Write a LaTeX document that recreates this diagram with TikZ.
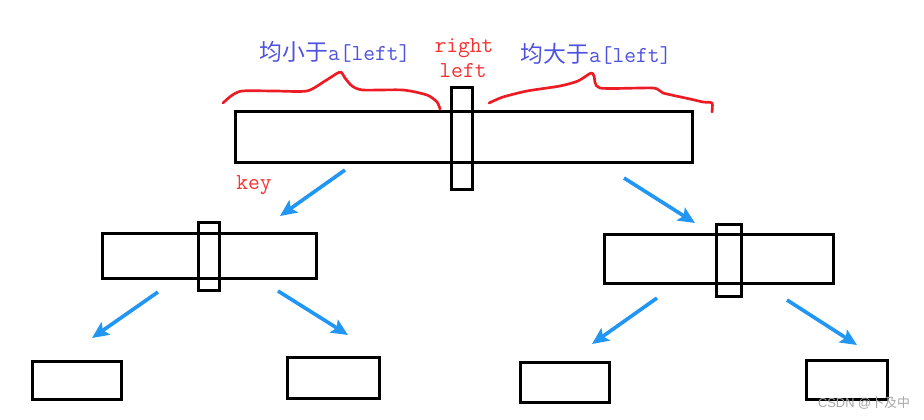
\documentclass[tikz,border=0pt]{standalone}
\usepackage{fontspec}
\newfontfamily\cjk{Noto Sans CJK SC}
\newfontfamily\wmfont{Liberation Sans}
\usetikzlibrary{arrows.meta}
\definecolor{penred}{RGB}{237,28,36}
\definecolor{penblue}{RGB}{33,150,243}
\definecolor{txtblue}{RGB}{78,82,222}
\definecolor{txtred}{RGB}{245,50,50}
\tikzset{
  box/.style={draw, line width=0.09cm, inner sep=0pt},
  brace/.style={penred, line width=0.08cm, line cap=round, line join=round},
  pen/.style={penblue, line width=0.11cm, -{Stealth[length=0.5cm,width=0.45cm,inset=0.1cm]}},
  lbl/.style={inner sep=0pt, font=\fontsize{19.5pt}{20pt}\selectfont},
  tt/.style={inner sep=0pt, font=\ttfamily\fontsize{19.5pt}{20pt}\selectfont},
}
\begin{document}
\begin{tikzpicture}[x=0.03cm, y=-0.03cm]
    \useasboundingbox (0,0) rectangle (924,419);

    % array and pivot slot
    \node [box, minimum width=13.68cm, minimum height=1.53cm] (arr) at (464,136.5) {};
    \node [box, minimum width=0.63cm, minimum height=3.03cm] (piv) at (461.5,138.5) {};

    \node [box, minimum width=6.39cm, minimum height=1.35cm] (lo) at (209.5,255.5) {};
    \node [box, minimum width=0.63cm, minimum height=2.04cm] (lopiv) at (208.5,256) {};
    \node [box, minimum width=6.87cm, minimum height=1.47cm] (hi) at (718.5,258.5) {};
    \node [box, minimum width=0.75cm, minimum height=2.16cm] (hipiv) at (728.5,260) {};

    \node [box, minimum width=2.64cm, minimum height=1.14cm] (lolo) at (77,380) {};
    \node [box, minimum width=2.76cm, minimum height=1.23cm] (lohi) at (333,377.5) {};
    \node [box, minimum width=2.67cm, minimum height=1.20cm] (hilo) at (564.5,382) {};
    \node [box, minimum width=2.43cm, minimum height=1.17cm] (hihi) at (846.5,379.5) {};

    % labels
    \node [lbl, text=txtblue] (less) at (335,52) {\cjk 均小于\texttt{a[left]}};
    \node [lbl, text=txtblue] (more) at (596,54) {\cjk 均大于\texttt{a[left]}};
    \node [tt, text=txtred] (r) at (464,48) {right};
    \node [tt, text=txtred] (l) at (463,71) {left};
    \node [tt, text=txtred] (key) at (254,185) {key};
    \node [inner sep=0pt, text=black!35, font=\wmfont\fontsize{11pt}{12pt}\selectfont] (wm) at (864,403) {CSDN @{\cjk 卜及中}};

    % braces
    \draw [brace] plot [smooth, tension=0.4] coordinates {(223,103) (231,96) (242,91) (275,91) (307,91) (325,81) (340,72) (345,78) (352,86) (363,90) (403,90) (427,95) (437,102) (440,109)};
    \draw [brace] plot [smooth, tension=0.4] coordinates {(489,103) (503,97) (527,91) (560,86) (578,81) (591,73) (594,76) (600,88) (653,88) (663,93) (690,99) (703,102) (712,103) (712,112)};

    % arrows
    \coordinate (a1) at (345,170);  \coordinate (b1) at (280,216);
    \coordinate (a2) at (624,178);  \coordinate (b2) at (695,223);
    \coordinate (a3) at (158,292);  \coordinate (b3) at (92,338);
    \coordinate (a4) at (278,291);  \coordinate (b4) at (348,335);
    \coordinate (a5) at (657,298);  \coordinate (b5) at (592,344);
    \coordinate (a6) at (787,300);  \coordinate (b6) at (857,345);
    \foreach \i in {1,...,6}
      \draw [pen] (a\i) -- (b\i);
  \end{tikzpicture}
\end{document}
